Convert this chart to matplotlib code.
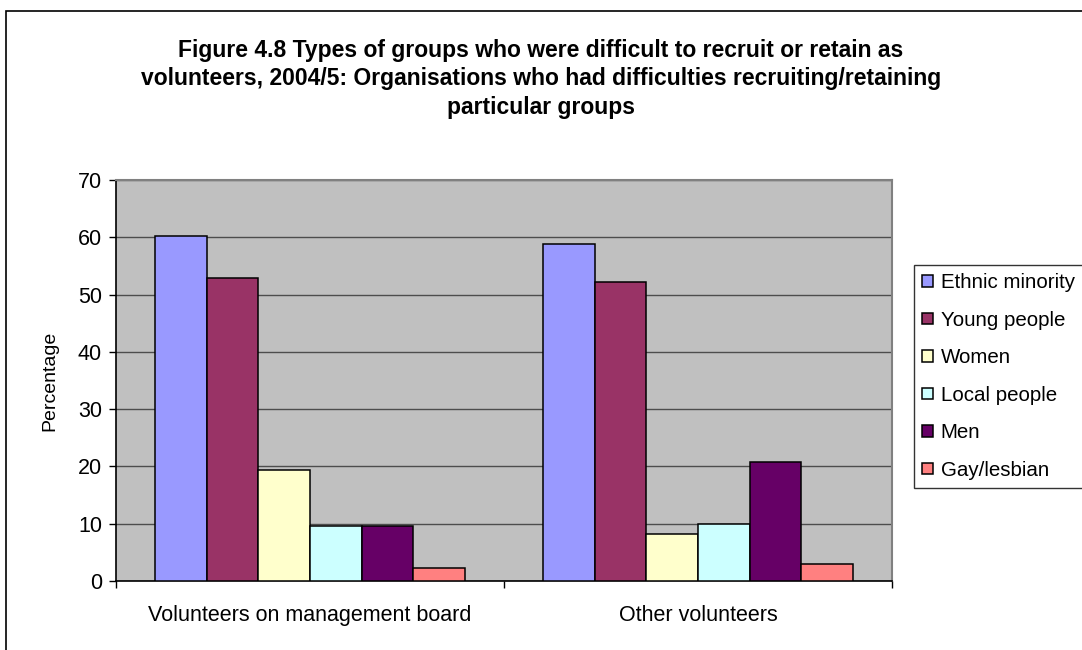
import matplotlib.pyplot as plt
import matplotlib.patches as mpatches
import numpy as np

plt.rcParams['font.family'] = ['Liberation Sans', 'DejaVu Sans']

categories = ["Volunteers on management board", "Other volunteers"]
groups = ["Ethnic minority", "Young people", "Women", "Local people", "Men", "Gay/lesbian"]
values = {
    "Ethnic minority": [60.2, 58.8],
    "Young people": [52.9, 52.2],
    "Women": [19.4, 8.2],
    "Local people": [9.6, 9.9],
    "Men": [9.6, 20.8],
    "Gay/lesbian": [2.3, 3.0],
}
colors = ["#9999FF", "#993366", "#FFFFCC", "#CCFFFF", "#660066", "#FF8080"]
title = ("Figure 4.8 Types of groups who were difficult to recruit or retain as\n"
         "volunteers, 2004/5: Organisations who had difficulties recruiting/retaining\n"
         "particular groups")

fig = plt.figure(figsize=(10.82, 6.5), dpi=100)
ax = fig.add_axes([116 / 1082, 69 / 650, 776 / 1082, 401 / 650])
ax.set_facecolor("#C0C0C0")

# outer chart border (right/bottom run off the image)
fig.patches.append(mpatches.Rectangle((6 / 1082, -0.1), 1.2, 1 - 11 / 650 + 0.1,
                                      transform=fig.transFigure, fill=False,
                                      edgecolor="black", linewidth=1.2))

x = np.arange(len(categories))
w = 0.8 / len(groups)
handles = []
for i, g in enumerate(groups):
    b = ax.bar(x - 0.4 + w * (i + 0.5), values[g], width=w, color=colors[i],
               edgecolor="black", linewidth=1.1, zorder=3, label=g)
    handles.append(b)

ax.set_xlim(-0.5, 1.5)
ax.set_ylim(0, 70)
ax.set_yticks(range(0, 71, 10))
ax.yaxis.grid(True, color="#4d4d4d", linewidth=1.0, zorder=1)
ax.set_axisbelow(True)

ax.set_xticks([-0.5, 0.5, 1.5])
ax.set_xticklabels([])
ax.set_xticks(x, minor=True)
ax.set_xticklabels(categories, minor=True)
ax.tick_params(axis="x", which="minor", length=0, labelsize=15.5, pad=17)
ax.tick_params(axis="x", which="major", length=5, width=1, direction="out")
ax.tick_params(axis="y", length=5, width=1, labelsize=15.5, pad=5)

for s in ["top", "right"]:
    ax.spines[s].set_color("#808080")
    ax.spines[s].set_linewidth(1.5)
for s in ["left", "bottom"]:
    ax.spines[s].set_color("black")
    ax.spines[s].set_linewidth(1.2)

ax.set_ylabel("Percentage", fontsize=14, labelpad=14)

fig.text(541 / 1082, 1 - 79 / 650, title, ha="center", va="center",
         fontsize=16.5, fontweight="bold", linespacing=1.3)

leg = fig.legend(handles=handles, labels=groups, loc="upper left",
                 bbox_to_anchor=(914 / 1082, 1 - 265 / 650), fontsize=14.8,
                 frameon=True, fancybox=False, handlelength=0.5, handleheight=0.5,
                 handletextpad=0.4, labelspacing=0.9, borderpad=0.4,
                 borderaxespad=0)
leg.get_frame().set_edgecolor("black")
leg.get_frame().set_linewidth(1.0)

fig.savefig("out.png", dpi=100)
